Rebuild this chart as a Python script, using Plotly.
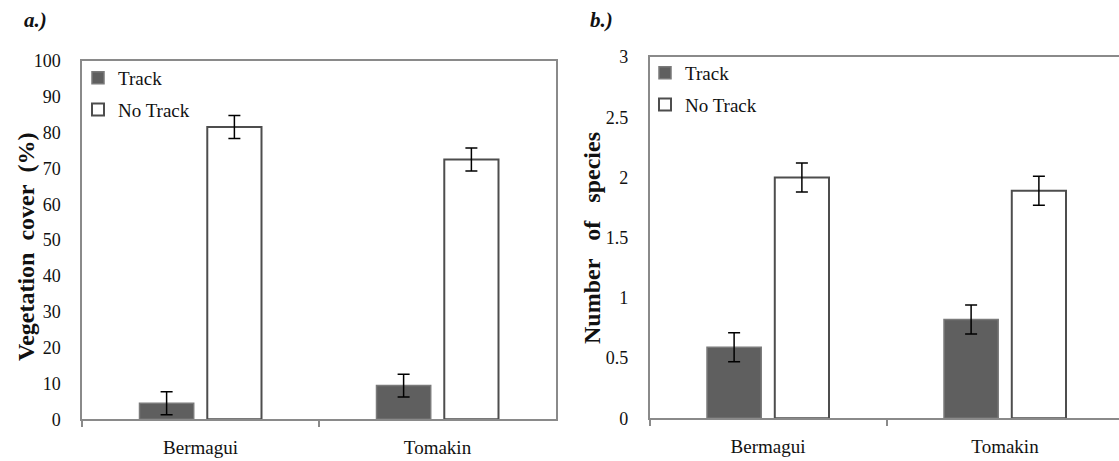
import plotly.graph_objects as go

sites = ["Bermagui", "Tomakin"]
series = ["Track", "No Track"]

cover_track = [4.5, 9.4]
cover_track_err = [3.2, 3.2]
cover_notrack = [81.6, 72.5]
cover_notrack_err = [3.2, 3.2]

species_track = [0.59, 0.82]
species_track_err = [0.12, 0.12]
species_notrack = [2.0, 1.89]
species_notrack_err = [0.12, 0.12]

cover_ticks = [0, 10, 20, 30, 40, 50, 60, 70, 80, 90, 100]
species_ticks = [0, 0.5, 1, 1.5, 2, 2.5, 3]
species_ticklabels = ["0", "0.5", "1", "1.5", "2", "2.5", "3"]

W, H = 1119, 461
SERIF = "Liberation Serif"
DARK = "#5f5f5f"
FRAME = "#8a8a8a"

track_style = dict(marker=dict(color=DARK, line=dict(color="#7a7a7a", width=1.5)))
notrack_style = dict(marker=dict(color="white", line=dict(color="#4d4d4d", width=2)))
err_style = dict(type="data", color="black", thickness=1.5, width=6, visible=True)

fig = go.Figure()
fig.add_trace(go.Bar(x=sites, y=cover_track, name=series[0], xaxis="x", yaxis="y",
                     error_y=dict(array=cover_track_err, **err_style),
                     legend="legend", legendgroup="a", **track_style))
fig.add_trace(go.Bar(x=sites, y=cover_notrack, name=series[1], xaxis="x", yaxis="y",
                     error_y=dict(array=cover_notrack_err, **err_style),
                     legend="legend", legendgroup="b", **notrack_style))
fig.add_trace(go.Bar(x=sites, y=species_track, name=series[0], xaxis="x2", yaxis="y2",
                     error_y=dict(array=species_track_err, **err_style),
                     legend="legend2", legendgroup="c", **track_style))
fig.add_trace(go.Bar(x=sites, y=species_notrack, name=series[1], xaxis="x2", yaxis="y2",
                     error_y=dict(array=species_notrack_err, **err_style),
                     legend="legend2", legendgroup="d", **notrack_style))

def px_x(p):
    return p / W

def px_y(p):
    return (H - p) / H

xcommon = dict(showline=True, linecolor=FRAME, linewidth=1.5, mirror=True,
               ticks="outside", tickson="boundaries", ticklen=6, tickcolor=FRAME, tickwidth=1.5,
               tickfont=dict(family=SERIF, size=19, color="#111"), showgrid=False,
               ticklabelstandoff=10, fixedrange=True, automargin=False)
ycommon = dict(showline=True, linecolor=FRAME, linewidth=1.5, ticks="",
               tickfont=dict(family=SERIF, size=18, color="#111"), showgrid=False,
               zeroline=False, ticklabelstandoff=16, fixedrange=True, automargin=False)

legend_common = dict(font=dict(family=SERIF, size=19, color="#111"), bgcolor="rgba(0,0,0,0)",
                     tracegroupgap=4, xanchor="left", yanchor="top", itemwidth=30,
                     orientation="v")

fig.update_layout(
    width=W, height=H,
    margin=dict(l=0, r=0, t=0, b=0, autoexpand=False),
    paper_bgcolor="white", plot_bgcolor="white",
    barmode="group", bargap=0.428, bargroupgap=0.2,
    xaxis=dict(domain=[px_x(82), px_x(556)], anchor="y", range=[-0.5, 1.5], **xcommon),
    yaxis=dict(domain=[px_y(419.3), px_y(61)], anchor="x", range=[0, 100],
               tickvals=cover_ticks, mirror=True, **ycommon),
    xaxis2=dict(domain=[px_x(649.5), 1.0], anchor="y2", range=[-0.5, 1.481], **xcommon),
    yaxis2=dict(domain=[px_y(418.3), px_y(57)], anchor="x2", range=[0, 3],
                tickvals=species_ticks, ticktext=species_ticklabels, mirror=False, **ycommon),
    legend=dict(x=px_x(78), y=px_y(59), **legend_common),
    legend2=dict(x=px_x(645), y=px_y(54), **legend_common),
    showlegend=True,
    annotations=[
        dict(text="<b><i>a.)</i></b>", x=px_x(22), y=px_y(20), xref="paper", yref="paper",
             xanchor="left", yanchor="middle", showarrow=False,
             font=dict(family=SERIF, size=21, color="#111")),
        dict(text="<b><i>b.)</i></b>", x=px_x(588), y=px_y(20), xref="paper", yref="paper",
             xanchor="left", yanchor="middle", showarrow=False,
             font=dict(family=SERIF, size=21, color="#111")),
        dict(text="<b>Vegetation\u00a0\u00a0cover\u00a0\u00a0(%)</b>", x=px_x(26), y=px_y(247),
             xref="paper", yref="paper", xanchor="center", yanchor="middle",
             textangle=-90, showarrow=False, font=dict(family=SERIF, size=24, color="#111")),
        dict(text="<b>Number\u00a0\u00a0\u00a0of\u00a0\u00a0\u00a0species</b>", x=px_x(592), y=px_y(238),
             xref="paper", yref="paper", xanchor="center", yanchor="middle",
             textangle=-90, showarrow=False, font=dict(family=SERIF, size=24, color="#111")),
    ],
)

fig.write_html("out.html", config={"displayModeBar": False})
